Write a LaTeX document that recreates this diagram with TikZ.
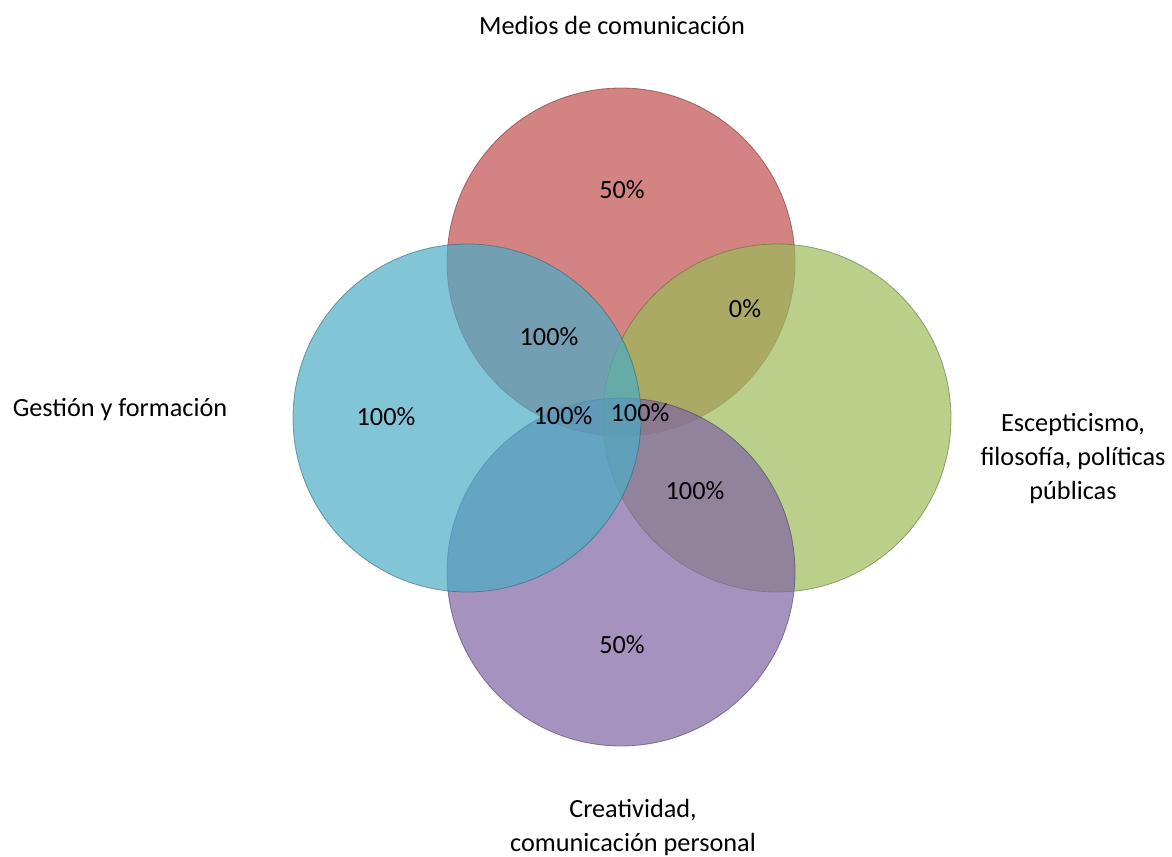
\documentclass[tikz,border=0pt]{standalone}
\usepackage{fontspec}
\setmainfont{Carlito}
\usepackage{tikz}

\definecolor{vennred}{HTML}{C0504D}
\definecolor{vennaqua}{HTML}{4BACC6}
\definecolor{venngreen}{HTML}{9BBB59}
\definecolor{vennpurple}{HTML}{8064A2}

\begin{document}
\begin{tikzpicture}[x=.75pt,y=-.75pt]
          \tikzset{SetStyle/.style = {
              shape = circle,
              inner sep = 0pt,
              outer sep = 0pt,
              minimum size = 261pt,
              fill opacity = .7,
              draw opacity = .6,
              line width = .6pt}}
          \tikzset{LabelStyle/.style = {
              font = \fontsize{19.7}{25.5}\selectfont,
              align = center,
              inner sep = 0pt}}
          \useasboundingbox (0,0) rectangle (1172,857);
          %% the four sets
          \node[SetStyle,fill=vennred,draw=vennred!60!black] (medios) at (621,262) {};
          \node[SetStyle,fill=venngreen,draw=venngreen!60!black] (esceptic) at (777,418) {};
          \node[SetStyle,fill=vennpurple,draw=vennpurple!60!black] (creativ) at (621,572) {};
          \node[SetStyle,fill=vennaqua,draw=vennaqua!60!black] (gestion) at (467,418) {};
          %% set names
          \node[LabelStyle] (tmedios) at (612,25) {Medios de comunicación};
          \node[LabelStyle] (tgestion) at (120,410) {Gestión y formación};
          \node[LabelStyle] (tesceptic) at (1073,459) {Escepticismo,\\filosofía, políticas\\públicas};
          \node[LabelStyle] (tcreativ) at (633,827) {Creatividad,\\comunicación personal};
          %% values
          \node[LabelStyle] (vmedios) at (622,190) {50\%};
          \node[LabelStyle] (vgestion) at (386,417) {100\%};
          \node[LabelStyle] (vcreativ) at (622,645) {50\%};
          \node[LabelStyle] (vmg) at (549,337) {100\%};
          \node[LabelStyle] (vme) at (745,309) {0\%};
          \node[LabelStyle] (vec) at (695,491) {100\%};
          \node[LabelStyle] (vleft) at (563,416) {100\%};
          \node[LabelStyle] (vright) at (640,413) {100\%};
\end{tikzpicture}
\end{document}
